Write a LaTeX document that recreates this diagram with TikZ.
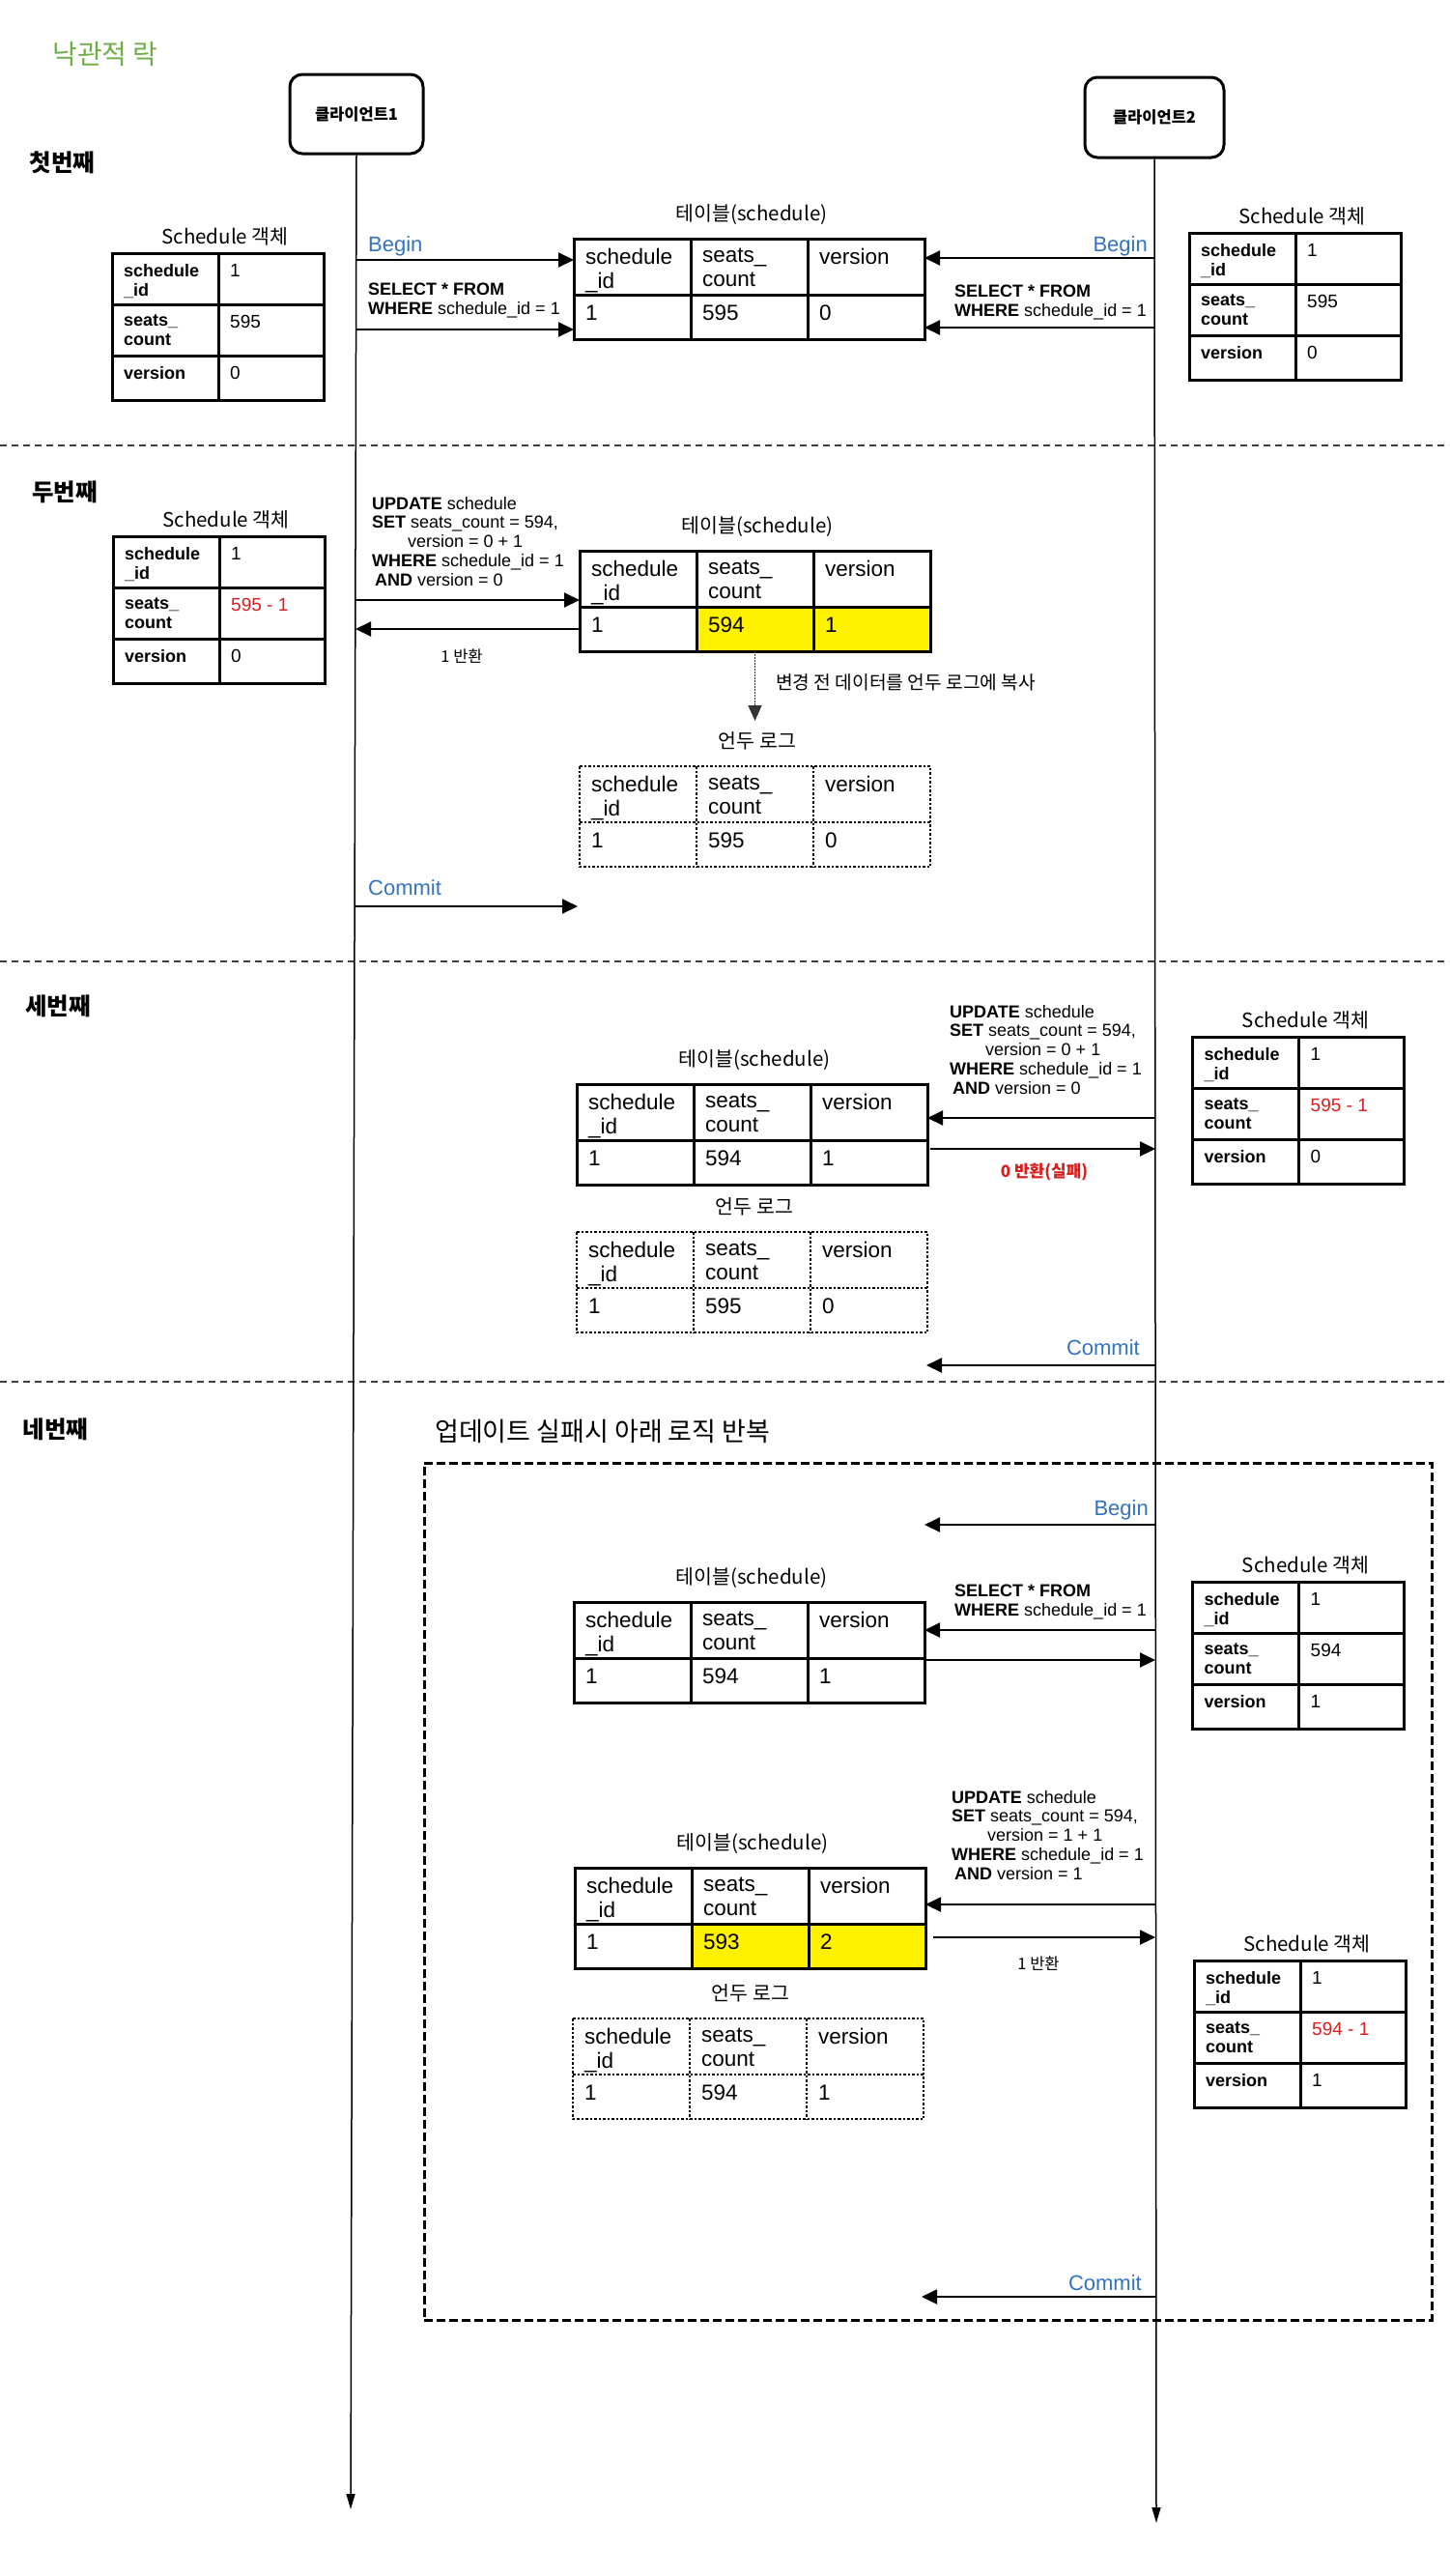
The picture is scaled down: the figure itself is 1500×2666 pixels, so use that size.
\documentclass[tikz,border=0pt]{standalone}
\usepackage{fontspec}
\setmainfont{Liberation Sans}
\newfontfamily\kr{Noto Sans CJK KR}
\usetikzlibrary{arrows.meta,calc}
\definecolor{ttlgreen}{RGB}{112,173,71}
\definecolor{txblue}{RGB}{52,115,190}
\definecolor{txred}{RGB}{217,30,30}
\tikzset{
 tbl/.style={line width=3pt, draw=black},
 dtbl/.style={line width=2.5pt, draw=black, dash pattern=on 2.5pt off 2pt},
 cellt/.style={anchor=north west, inner sep=0pt, align=left, font=\fontsize{22.5}{25}\selectfont},
 keyt/.style={anchor=north west, inner sep=0pt, align=left, font=\fontsize{18}{20}\selectfont\bfseries},
 valt/.style={anchor=north west, inner sep=0pt, align=left, font=\fontsize{19}{20}\selectfont},
 msgt/.style={anchor=north west, inner sep=0pt, align=left, font=\fontsize{18}{19.7}\selectfont},
 bluet/.style={inner sep=0pt, text=txblue, font=\fontsize{22}{24}\selectfont},
 lbl/.style={inner sep=0pt, anchor=base, font=\kr\fontsize{20.5}{24}\selectfont},
 krt/.style={inner sep=0pt, font=\kr\fontsize{18}{22}\selectfont},
 sect/.style={inner sep=0pt, font=\kr\bfseries\fontsize{24.5}{28}\selectfont},
 msg/.style={line width=2pt, -{Triangle[length=16pt,width=15pt]}},
 life/.style={line width=1.5pt, -{Triangle[length=16pt,width=9pt]}},
 sepline/.style={line width=1.5pt, draw=black!75, dash pattern=on 7pt off 5pt},
 client/.style={draw, line width=3pt, rounded corners=13pt, inner sep=0pt, font=\kr\bfseries\fontsize{16.5}{18}\selectfont},
 loopbox/.style={draw, line width=2.5pt, dash pattern=on 9pt off 4pt, inner sep=0pt, anchor=north west},
}
% #1 name #2 x #3 y #4 border style #5-#7 values #8 fill of changed cells #9 label
\newcommand{\dbtab}[9]{%
 \node[minimum width=363pt, minimum height=104pt, anchor=north west, inner sep=0pt, outer sep=0pt] (#1) at (#2,#3) {};
 \begin{scope}[shift={(#2,#3)}]
  \fill[#8] (121,58) rectangle (363,104);
  \draw[#4] (121,0) -- (121,104) (242,0) -- (242,104) (0,58) -- (363,58);
  \draw[#4] (0,0) rectangle (363,104);
  \node[cellt] at (12,10) {schedule\\\_id};
  \node[cellt] at (133,10) {seats\_\\count};
  \node[cellt] at (254,10) {version};
  \node[cellt] at (12,69) {#5};
  \node[cellt] at (133,69) {#6};
  \node[cellt] at (254,69) {#7};
  \node[lbl] at (184,-19) {#9};
 \end{scope}}
% #1 name #2 x #3 y #4-#6 values #7 colour of 2nd value
\newcommand{\objtab}[7]{%
 \node[minimum width=219pt, minimum height=152pt, anchor=north west, inner sep=0pt, outer sep=0pt] (#1) at (#2,#3) {};
 \begin{scope}[shift={(#2,#3)}]
  \draw[tbl] (110,0) -- (110,152) (0,53) -- (219,53) (0,106) -- (219,106);
  \draw[tbl] (0,0) rectangle (219,152);
  \node[keyt] at (12,11) {schedule\\\_id};
  \node[keyt] at (12,64) {seats\_\\count};
  \node[keyt] at (12,117) {version};
  \node[valt] at (122,11) {#4};
  \node[valt,text=#7] at (122,64) {#5};
  \node[valt] at (122,117) {#6};
  \node[lbl] at (117,-9.5) {Schedule 객체};
 \end{scope}}
\begin{document}
\begin{tikzpicture}[x=1pt,y=-1pt]
\useasboundingbox[fill=white] (0,0) rectangle (1500,2666);

% title and section labels
\node[inner sep=0pt, text=ttlgreen, font=\kr\fontsize{28}{32}\selectfont] (title) at (109,56) {낙관적 락};
\node[sect] (s1) at (64.5,168.5) {첫번째};
\node[sect] (s2) at (67,509.5) {두번째};
\node[sect] (s3) at (60,1041.5) {세번째};
\node[sect] (s4) at (57.5,1479) {네번째};

% separators
\draw[sepline] (0,461) -- (1500,461);
\draw[sepline] (0,995) -- (1500,995);
\draw[sepline] (0,1430) -- (1500,1430);

% clients and lifelines
\node[client, minimum width=138pt, minimum height=82pt] (c1) at (369,118) {클라이언트1};
\node[client, minimum width=144pt, minimum height=83pt] (c2) at (1195,121.5) {클라이언트2};
\coordinate (l1end) at (363,2597);
\coordinate (l2end) at (1197,2611);
\draw[life] (c1.south) -- (l1end);
\draw[life] (c2.south) -- (l2end);

% ---------- section 1 ----------
\objtab{o1}{116}{262}{1}{595}{0}{black}
\dbtab{t1}{594}{247}{tbl}{1}{595}{0}{white}{테이블(schedule)}
\objtab{o2}{1231}{241}{1}{595}{0}{black}

\node[bluet, anchor=base west] (b1) at (381,260) {Begin};
\coordinate (a1) at (368,269);
\draw[msg] (a1) -- (a1 -| t1.west);
\node[msgt] (q1) at (381,293) {{\bfseries SELECT * FROM}\\{\bfseries WHERE} schedule\_id = 1};
\coordinate (a2) at (368,341);
\draw[msg] (a2) -- (a2 -| t1.west);

\node[bluet, anchor=base east] (b2) at (1188,260) {Begin};
\coordinate (a3) at (1196,267);
\draw[msg] (a3) -- (a3 -| t1.east);
\node[msgt] (q2) at (988,295) {{\bfseries SELECT * FROM}\\{\bfseries WHERE} schedule\_id = 1};
\coordinate (a4) at (1196,339);
\draw[msg] (a4) -- (a4 -| t1.east);

% ---------- section 2 ----------
\objtab{o3}{117}{555}{1}{595 - 1}{0}{txred}
\dbtab{t2}{600}{570}{tbl}{1}{594}{1}{yellow}{테이블(schedule)}
\dbtab{u2}{600}{793}{dtbl}{1}{595}{0}{white}{언두 로그}

\node[msgt] (q3) at (385,514) {{\bfseries UPDATE} schedule\\{\bfseries SET} seats\_count = 594,\\\hspace*{37pt}version = 0 + 1\\{\bfseries WHERE} schedule\_id = 1\\\hspace*{3pt}{\bfseries AND} version = 0};
\coordinate (a5) at (368,621);
\draw[msg] (a5) -- (a5 -| t2.west);
\coordinate (a6) at (368,651);
\draw[msg] (a6 -| t2.west) -- (a6);
\node[krt, font=\kr\fontsize{16.5}{20}\selectfont] (r1) at (478,679) {1 반환};

\coordinate (d1) at (781.5,746);
\draw[line width=1.5pt, draw=black!80, dash pattern=on 1.5pt off 1.5pt, -{Triangle[length=16pt,width=14pt]}] (t2.south) -- (d1);
\node[krt, anchor=west, font=\kr\fontsize{19.2}{22}\selectfont] (cp) at (803,706) {변경 전 데이터를 언두 로그에 복사};

\node[bluet, anchor=base west] (cm1) at (381,926) {Commit};
\coordinate (a7) at (368,938);
\coordinate (a7e) at (598,938);
\draw[msg] (a7) -- (a7e);

% ---------- section 3 ----------
\objtab{o4}{1234.5}{1073}{1}{595 - 1}{0}{txred}
\dbtab{t3}{597}{1122}{tbl}{1}{594}{1}{white}{테이블(schedule)}
\dbtab{u3}{597}{1275}{dtbl}{1}{595}{0}{white}{언두 로그}

\node[msgt] (q4) at (983,1040) {{\bfseries UPDATE} schedule\\{\bfseries SET} seats\_count = 594,\\\hspace*{37pt}version = 0 + 1\\{\bfseries WHERE} schedule\_id = 1\\\hspace*{3pt}{\bfseries AND} version = 0};
\coordinate (a8) at (1196,1157);
\draw[msg] (a8) -- (a8 -| t3.east);
\coordinate (a9) at (1196,1189);
\draw[msg] ([xshift=3pt]a9 -| t3.east) -- (a9);
\node[krt, text=txred, font=\kr\bfseries\fontsize{17}{20}\selectfont] (r2) at (1081,1213) {0 반환(실패)};

\node[bluet, anchor=base east] (cm2) at (1180,1402) {Commit};
\coordinate (a10) at (1196,1413);
\coordinate (a10e) at (959,1413);
\draw[msg] (a10) -- (a10e);

% ---------- section 4 ----------
\node[krt, anchor=west, font=\kr\fontsize{27}{32}\selectfont] (loop) at (450,1481) {업데이트 실패시 아래 로직 반복};
\node[loopbox, minimum width=1043pt, minimum height=887pt] (lb) at (438,1513) {};

\node[bluet, anchor=base east] (b3) at (1189,1568) {Begin};
\coordinate (a11) at (1196,1578);

\objtab{o5}{1234.5}{1637}{1}{594}{1}{black}
\dbtab{t4}{594}{1658}{tbl}{1}{594}{1}{white}{테이블(schedule)}
\draw[msg] (a11) -- (a11 -| t4.east);

\node[msgt] (q5) at (988,1640) {{\bfseries SELECT * FROM}\\{\bfseries WHERE} schedule\_id = 1};
\coordinate (a12) at (1196,1687);
\draw[msg] (a12) -- (a12 -| t4.east);
\coordinate (a13) at (1196,1718);
\draw[msg] (a13 -| t4.east) -- (a13);

\node[msgt] (q6) at (985,1853) {{\bfseries UPDATE} schedule\\{\bfseries SET} seats\_count = 594,\\\hspace*{37pt}version = 1 + 1\\{\bfseries WHERE} schedule\_id = 1\\\hspace*{3pt}{\bfseries AND} version = 1};
\dbtab{t5}{595}{1933}{tbl}{1}{593}{2}{yellow}{테이블(schedule)}
\coordinate (a14) at (1197,1971);
\draw[msg] (a14) -- (a14 -| t5.east);
\coordinate (a15) at (1196,2005);
\draw[msg] ([xshift=8pt]a15 -| t5.east) -- (a15);
\node[krt, font=\kr\fontsize{16.5}{20}\selectfont] (r3) at (1075,2032) {1 반환};

\dbtab{u4}{593}{2089}{dtbl}{1}{594}{1}{white}{언두 로그}
\objtab{o6}{1236}{2029}{1}{594 - 1}{1}{txred}

\node[bluet, anchor=base east] (cm3) at (1182,2370) {Commit};
\coordinate (a16) at (1196,2377);
\coordinate (a16e) at (954,2377);
\draw[msg] (a16) -- (a16e);
\end{tikzpicture}
\end{document}
